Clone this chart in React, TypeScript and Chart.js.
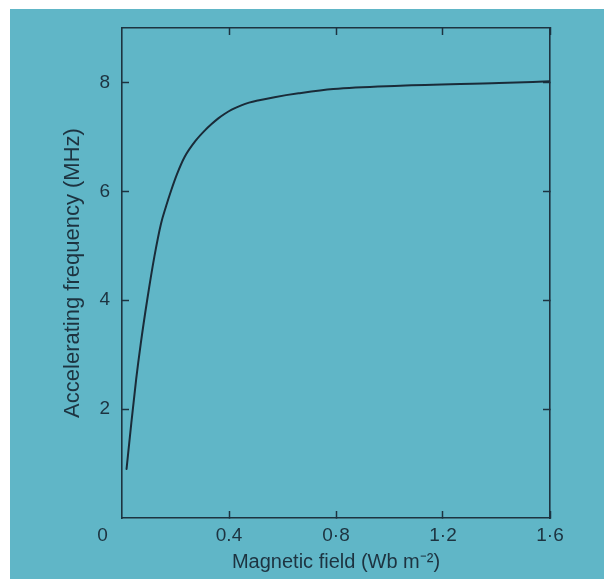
import React, { useEffect, useRef } from "react";
import { Chart, registerables } from "chart.js";

Chart.register(...registerables);

// Magnetic field (Wb m^-2)
const fieldValues = [0.017, 0.035, 0.053, 0.07, 0.094, 0.121, 0.146, 0.165, 0.184, 0.206, 0.234, 0.277, 0.31, 0.336, 0.36, 0.383, 0.41, 0.446, 0.475, 0.508, 0.57, 0.66, 0.79, 1.04, 1.41, 1.6];
// Accelerating frequency (MHz)
const frequencyValues = [0.9, 1.75, 2.55, 3.2, 4.0, 4.8, 5.41, 5.73, 6.02, 6.32, 6.63, 6.94, 7.12, 7.24, 7.34, 7.42, 7.5, 7.58, 7.63, 7.67, 7.73, 7.8, 7.88, 7.94, 7.99, 8.02];

const xTickValues = [0.4, 0.8, 1.2, 1.6];
const xTickLabels = ["0.4", "0·8", "1·2", "1·6"];
const yTickValues = [2, 4, 6, 8];
const yTickLabels = ["2", "4", "6", "8"];
const originLabel = "0";

const xTitle = "Magnetic field (Wb m\u207B\u00B2)";
const yTitle = "Accelerating frequency (MHz)";

const INK = "#1d3340";
const LINE = "#1a2b38";
const TEAL = "#60b6c7";
const FONT = "'Liberation Sans', Arial, sans-serif";

export default function App() {
  const ref = useRef<HTMLCanvasElement | null>(null);

  useEffect(() => {
    if (!ref.current) return;
    const data = fieldValues.map((x, i) => ({ x, y: frequencyValues[i] }));

    const originPlugin = {
      id: "originLabel",
      afterDraw(chart: any) {
        const ctx = chart.ctx;
        const xs = chart.scales.x;
        const area = chart.chartArea;
        ctx.save();
        ctx.fillStyle = INK;
        ctx.font = `19px ${FONT}`;
        ctx.textAlign = "center";
        ctx.textBaseline = "middle";
        ctx.fillText(originLabel, xs.getPixelForValue(0) - 19.5, area.bottom + 18);
        ctx.restore();
      },
    };

    const tickGrid = {
      drawOnChartArea: false,
      drawTicks: true,
      tickLength: -7,
      tickWidth: 1.5,
      color: INK,
    };
    const border = { display: true, color: INK, width: 1.6 };
    const noPad = (s: any) => {
      s.paddingTop = 0;
      s.paddingBottom = 0;
      s.paddingLeft = 0;
      s.paddingRight = 0;
    };

    const chart = new Chart(ref.current, {
      type: "line",
      data: {
        datasets: [
          {
            data,
            borderColor: LINE,
            borderWidth: 2,
            pointRadius: 0,
            fill: false,
            cubicInterpolationMode: "monotone",
            borderCapStyle: "round",
            borderJoinStyle: "round",
          },
        ],
      },
      options: {
        animation: false,
        responsive: false,
        maintainAspectRatio: false,
        layout: { padding: { top: 19, right: 54, left: 0, bottom: 0 } },
        plugins: { legend: { display: false }, tooltip: { enabled: false } },
        scales: {
          x: {
            type: "linear",
            position: "bottom",
            min: 0,
            max: 1.6,
            afterBuildTicks: (s: any) => {
              s.ticks = xTickValues.map((v) => ({ value: v }));
            },
            afterFit: (s: any) => {
              s.height = 61;
              noPad(s);
            },
            grid: tickGrid,
            border,
            ticks: {
              color: INK,
              font: { family: FONT, size: 19 },
              padding: 13,
              maxRotation: 0,
              autoSkip: false,
              callback: (v: any) => {
                const i = xTickValues.indexOf(Number(v));
                return i >= 0 ? xTickLabels[i] : "";
              },
            },
            title: {
              display: true,
              text: xTitle,
              color: INK,
              font: { family: FONT, size: 20 },
              padding: { top: 0, bottom: 5 },
            },
          },
          x2: {
            type: "linear",
            position: "top",
            min: 0,
            max: 1.6,
            afterBuildTicks: (s: any) => {
              s.ticks = xTickValues.map((v) => ({ value: v }));
            },
            afterFit: (s: any) => {
              s.height = 0;
              noPad(s);
            },
            grid: tickGrid,
            border,
            ticks: { display: false },
          },
          y: {
            type: "linear",
            position: "left",
            min: 0,
            max: 9,
            afterBuildTicks: (s: any) => {
              s.ticks = yTickValues.map((v) => ({ value: v }));
            },
            afterFit: (s: any) => {
              s.width = 112;
              noPad(s);
            },
            grid: tickGrid,
            border,
            ticks: {
              color: INK,
              font: { family: FONT, size: 19 },
              padding: 19,
              autoSkip: false,
              callback: (v: any) => {
                const i = yTickValues.indexOf(Number(v));
                return i >= 0 ? yTickLabels[i] : "";
              },
            },
            title: {
              display: true,
              text: yTitle,
              color: INK,
              font: { family: FONT, size: 22 },
              padding: { top: 50, bottom: 0 },
            },
          },
          y2: {
            type: "linear",
            position: "right",
            min: 0,
            max: 9,
            afterBuildTicks: (s: any) => {
              s.ticks = yTickValues.map((v) => ({ value: v }));
            },
            afterFit: (s: any) => {
              s.width = 0;
              noPad(s);
            },
            grid: tickGrid,
            border,
            ticks: { display: false },
          },
        },
      },
      plugins: [originPlugin],
    } as any);

    return () => chart.destroy();
  }, []);

  return (
    <div
      style={{
        position: "absolute",
        left: 10,
        top: 9,
        width: 594,
        height: 570,
        background: TEAL,
      }}
    >
      <canvas ref={ref} width={594} height={570} style={{ width: 594, height: 570, display: "block" }} />
    </div>
  );
}
